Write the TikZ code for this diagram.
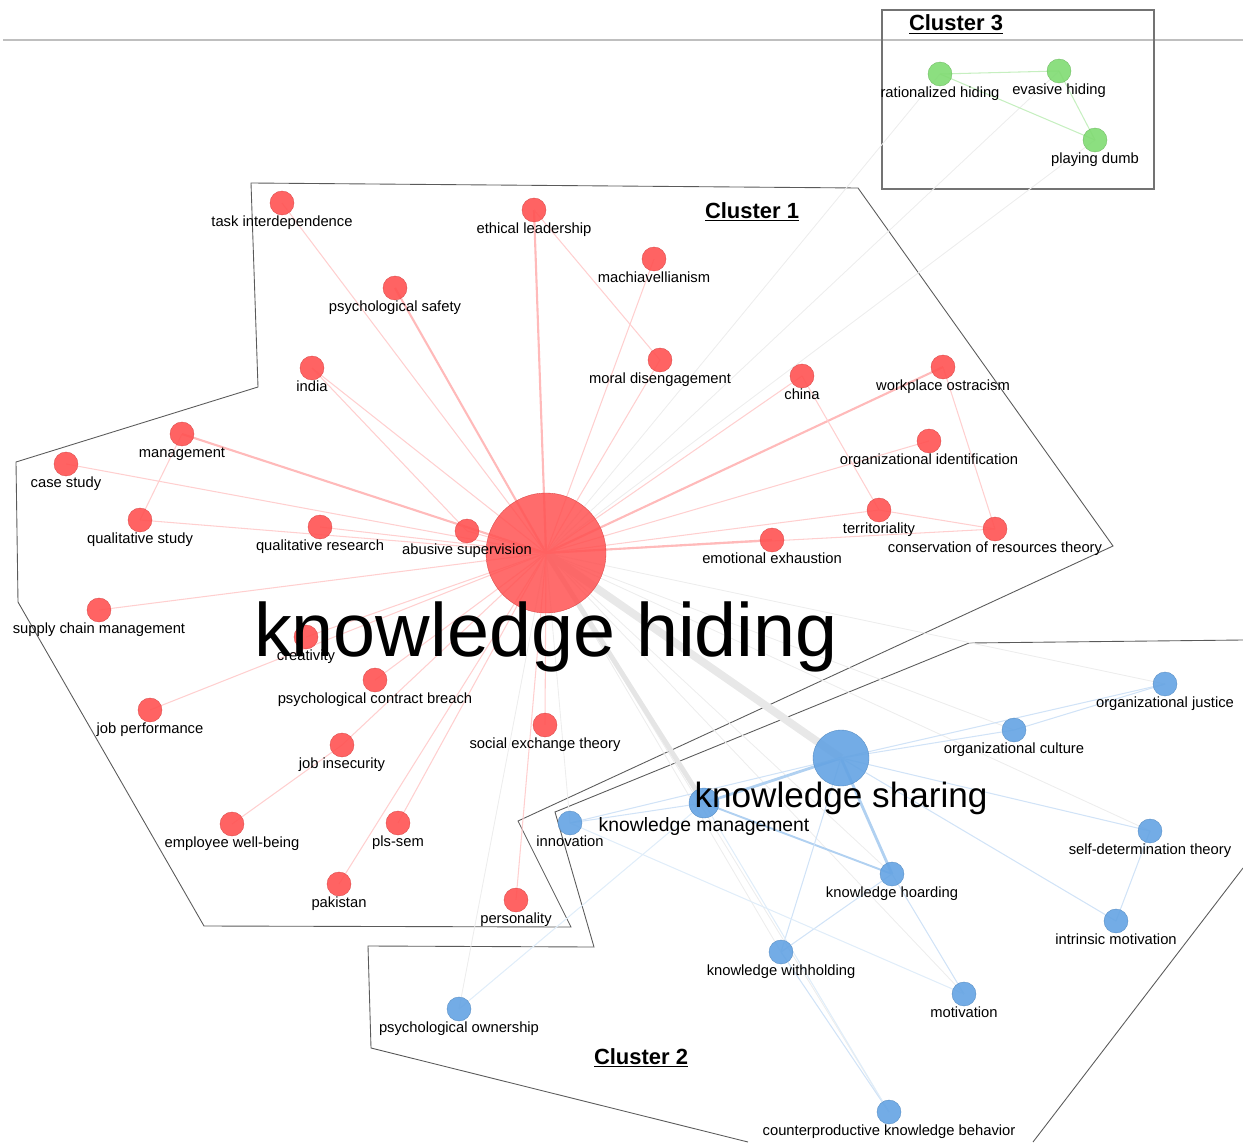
\documentclass[tikz,border=0pt]{standalone}
\usepackage{fontspec}
\setmainfont{Liberation Sans}
\usepackage{tikz}
\usetikzlibrary{backgrounds}
\definecolor{hidec}{HTML}{FF5252}
\definecolor{sharec}{HTML}{64A3E3}
\definecolor{typec}{HTML}{80DB72}
\definecolor{hullc}{HTML}{5A5A5A}
\tikzset{
  hidekw/.style={circle, inner sep=0pt, minimum size=4.8mm, fill=hidec, draw=hidec!85!black,
              line width=0.2pt, fill opacity=0.9},
  sharekw/.style={circle, inner sep=0pt, minimum size=4.8mm, fill=sharec, draw=sharec!85!black,
              line width=0.2pt, fill opacity=0.9},
  typekw/.style={circle, inner sep=0pt, minimum size=4.8mm, fill=typec, draw=typec!85!black,
              line width=0.2pt, fill opacity=0.9},
  kwlabel/.style={font=\fontsize{8.4}{10}\selectfont, inner sep=0pt, text height=6.2pt,
              text depth=1.8pt, fill opacity=1, text opacity=1},
  bigword/.style={anchor=base, inner sep=0pt},
  clustertitle/.style={anchor=base, inner sep=0pt, font=\bfseries\fontsize{12.5}{14}\selectfont},
  spoke/.style={hidec!28, line width=0.6pt},
  spokeb/.style={hidec!40, line width=1.2pt},
  faint/.style={black!7, line width=0.5pt},
  bridge/.style={black!9, line width=4.5pt},
  bridgem/.style={black!10, line width=2.8pt},
  shareln/.style={sharec!30, line width=0.6pt},
  sharelnb/.style={sharec!50, line width=1.6pt},
  typeln/.style={typec!45, line width=0.6pt},
  hull/.style={draw=hullc, line width=0.5pt},
}

\begin{document}
\begin{tikzpicture}[x=0.02cm, y=-0.02cm]
\useasboundingbox (0,0) rectangle (1243,1142);

% cluster 1: knowledge hiding
\node[hidekw, minimum size=24mm, fill opacity=0.85] (kh) at (546,553) {};
\node[hidekw, label={[kwlabel]below:task interdependence}] (taskint) at (282,203) {};
\node[hidekw, label={[kwlabel]below:ethical leadership}] (ethlead) at (534,210) {};
\node[hidekw, label={[kwlabel]below:machiavellianism}] (machia) at (654,259) {};
\node[hidekw, label={[kwlabel]below:psychological safety}] (psysafe) at (395,288) {};
\node[hidekw, label={[kwlabel]below:india}] (india) at (312,368) {};
\node[hidekw, label={[kwlabel]below:moral disengagement}] (moraldis) at (660,360) {};
\node[hidekw, label={[kwlabel]below:china}] (china) at (802,376) {};
\node[hidekw, label={[kwlabel]below:workplace ostracism}] (workost) at (943,367) {};
\node[hidekw, label={[kwlabel]below:management}] (mgmt) at (182,434) {};
\node[hidekw, label={[kwlabel]below:case study}] (casest) at (66,464) {};
\node[hidekw, label={[kwlabel]below:organizational identification}] (orgid) at (929,441) {};
\node[hidekw, label={[kwlabel]below:qualitative study}] (qualst) at (140,520) {};
\node[hidekw, label={[kwlabel]below:qualitative research}] (qualres) at (320,527) {};
\node[hidekw, label={[kwlabel]below:abusive supervision}] (abusup) at (467,531) {};
\node[hidekw, label={[kwlabel]below:territoriality}] (territ) at (879,510) {};
\node[hidekw, label={[kwlabel]below:conservation of resources theory}] (cort) at (995,529) {};
\node[hidekw, label={[kwlabel]below:emotional exhaustion}] (emoexh) at (772,540) {};
\node[hidekw, label={[kwlabel]below:supply chain management}] (supply) at (99,610) {};
\node[hidekw, label={[kwlabel]below:creativity}] (creat) at (306,637) {};
\node[hidekw, label={[kwlabel]below:psychological contract breach}] (pcbreach) at (375,680) {};
\node[hidekw, label={[kwlabel]below:job performance}] (jobperf) at (150,710) {};
\node[hidekw, label={[kwlabel]below:social exchange theory}] (socex) at (545,725) {};
\node[hidekw, label={[kwlabel]below:job insecurity}] (jobins) at (342,745) {};
\node[hidekw, label={[kwlabel]below:employee well-being}] (empwell) at (232,824) {};
\node[hidekw, label={[kwlabel]below:pls-sem}] (plssem) at (398,823) {};
\node[hidekw, label={[kwlabel]below:pakistan}] (pakis) at (339,884) {};
\node[hidekw, label={[kwlabel]below:personality}] (person) at (516,900) {};

% cluster 2: knowledge sharing
\node[sharekw, minimum size=11.2mm] (ks) at (841,758) {};
\node[sharekw, minimum size=6mm] (km) at (704,803) {};
\node[sharekw, label={[kwlabel]below:innovation}] (innov) at (570,823) {};
\node[sharekw, label={[kwlabel]below:organizational justice}] (orgjust) at (1165,684) {};
\node[sharekw, label={[kwlabel]below:organizational culture}] (orgcult) at (1014,730) {};
\node[sharekw, label={[kwlabel]below:self-determination theory}] (sdt) at (1150,831) {};
\node[sharekw, label={[kwlabel]below:knowledge hoarding}] (khoard) at (892,874) {};
\node[sharekw, label={[kwlabel]below:intrinsic motivation}] (intrin) at (1116,921) {};
\node[sharekw, label={[kwlabel]below:knowledge withholding}] (kwith) at (781,952) {};
\node[sharekw, label={[kwlabel]below:motivation}] (motiv) at (964,994) {};
\node[sharekw, label={[kwlabel]below:psychological ownership}] (psyown) at (459,1009) {};
\node[sharekw, label={[kwlabel]below:counterproductive knowledge behavior}] (cpkb) at (889,1112) {};

% cluster 3: hiding types
\node[typekw, label={[kwlabel]below:rationalized hiding}] (ratio) at (940,74) {};
\node[typekw, label={[kwlabel]below:evasive hiding}] (evasive) at (1059,71) {};
\node[typekw, label={[kwlabel]below:playing dumb}] (pdumb) at (1095,140) {};

% big keyword labels
\node[bigword, font=\fontsize{43}{43}\selectfont] (khlabel) at (546,656) {knowledge hiding};
\node[bigword, font=\fontsize{20}{20}\selectfont] (kslabel) at (841,807) {knowledge sharing};
\node[bigword, font=\fontsize{11}{11}\selectfont] (kmlabel) at (704,831) {knowledge management};

% cluster titles
\node[clustertitle] (c1title) at (752,218) {\underline{Cluster 1}};
\node[clustertitle] (c2title) at (641,1064) {\underline{Cluster 2}};
\node[clustertitle] (c3title) at (956,31) {\underline{Cluster 3}};

\begin{scope}[on background layer]
  % hulls
  \draw[black!25, line width=0.6pt] (3,40) -- (1243,40);
  \draw[black!55, line width=0.8pt] (882,10) rectangle (1154,189);
  \draw[hull] (251,183) -- (858,188) -- (1113,546) -- (518,821) -- (571,927)
    -- (204,926) -- (18,602) -- (16,462) -- (258,387) -- cycle;
  \draw[hull] (1243,640) -- (969,643) -- (555,812) -- (594,947) -- (368,946)
    -- (371,1048) -- (748,1142);
  \draw[hull] (1243,868) -- (1033,1142);
  % links between clusters
  \foreach \t in {ratio, evasive, pdumb, innov, psyown, khoard, kwith, orgcult, orgjust, motiv, cpkb, sdt}
    \draw[faint] (kh.center) -- (\t.center);
  \draw[bridge] (kh.center) -- (ks.center);
  \draw[bridgem] (kh.center) -- (km.center);
  % knowledge hiding links
  \foreach \t in {taskint, machia, india, moraldis, china, casest, orgid, qualst, qualres,
      abusup, territ, cort, supply, creat, pcbreach, jobperf, socex, jobins, plssem, pakis, person}
    \draw[spoke] (kh.center) -- (\t.center);
  \foreach \t in {ethlead, psysafe, workost, mgmt, emoexh}
    \draw[spokeb] (kh.center) -- (\t.center);
  \draw[spoke] (mgmt.center) -- (qualst.center);
  \draw[spoke] (ethlead.center) -- (moraldis.center);
  \draw[spoke] (jobins.center) -- (empwell.center);
  \draw[spoke] (workost.center) -- (cort.center);
  \draw[spoke] (territ.center) -- (cort.center);
  \draw[spoke] (china.center) -- (territ.center);
  \draw[spoke] (india.center) -- (abusup.center);
  % knowledge sharing links
  \draw[sharelnb] (ks.center) -- (km.center);
  \draw[sharelnb] (ks.center) -- (khoard.center);
  \draw[sharelnb, line width=1.1pt] (km.center) -- (khoard.center);
  \foreach \t in {innov, orgcult, orgjust, sdt, intrin, kwith}
    \draw[shareln] (ks.center) -- (\t.center);
  \draw[shareln] (km.center) -- (innov.center);
  \draw[shareln] (orgcult.center) -- (orgjust.center);
  \draw[shareln] (sdt.center) -- (intrin.center);
  \draw[shareln] (khoard.center) -- (kwith.center);
  \draw[shareln] (khoard.center) -- (motiv.center);
  \draw[shareln] (kwith.center) -- (cpkb.center);
  \draw[shareln, sharec!20] (km.center) -- (cpkb.center);
  \draw[shareln, sharec!20] (km.center) -- (psyown.center);
  \draw[shareln, sharec!20] (innov.center) -- (motiv.center);
  % hiding type links
  \draw[typeln] (ratio.center) -- (evasive.center);
  \draw[typeln] (ratio.center) -- (pdumb.center);
  \draw[typeln] (evasive.center) -- (pdumb.center);
\end{scope}
\end{tikzpicture}
\end{document}
